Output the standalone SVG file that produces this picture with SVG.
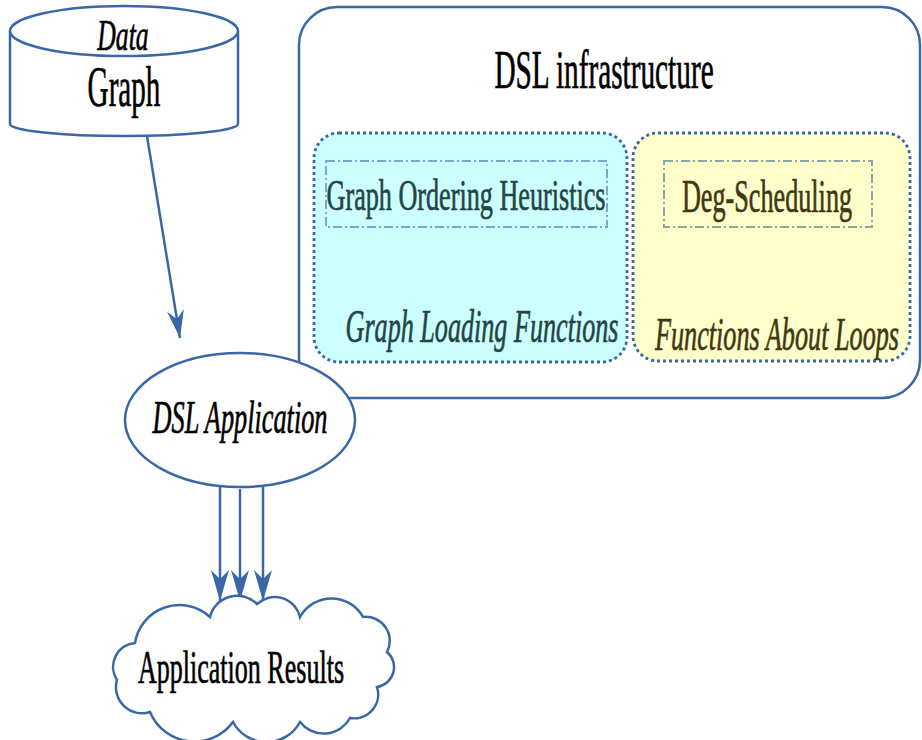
<svg xmlns="http://www.w3.org/2000/svg" width="922" height="740" viewBox="0 0 922 740">
<style>
.ln{fill:none;stroke:#3a68a6;stroke-width:2.5}
.shape{fill:#ffffff;stroke:#3a68a6;stroke-width:2.5}
.t{font-family:"Liberation Serif","Times New Roman",serif;fill:#000;stroke:#000;stroke-width:0.7}
.it{font-style:italic}
.cy{fill:#254545;stroke:#254545}
.ye{fill:#403812;stroke:#403812}
.dot{stroke:#3a68a6;stroke-width:2.8;stroke-dasharray:3 3}
.dd{fill:none;stroke-width:2;stroke-dasharray:9 3 2 3}
</style>
<defs>
<marker id="stealth" viewBox="-31 -10 33 20" refX="0" refY="0" markerWidth="33" markerHeight="20" markerUnits="userSpaceOnUse" orient="auto">
<path d="M0,0 L-31,-9 L-22,0 L-31,9 Z" fill="#3a68a6"/>
</marker>
<marker id="stealth2" viewBox="-30 -10 32 20" refX="0" refY="0" markerWidth="32" markerHeight="20" markerUnits="userSpaceOnUse" orient="auto">
<path d="M0,0 L-28,-8.5 L-19,0 L-28,8.5 Z" fill="#3a68a6"/>
</marker>
</defs>

<g id="dsl-infrastructure">
<rect x="299" y="7" width="621" height="391" rx="38" ry="38" class="shape"/>
<text class="t" transform="translate(604,88) scale(0.54,1)" x="0" y="0" font-size="54" text-anchor="middle" textLength="406" lengthAdjust="spacingAndGlyphs">DSL infrastructure</text>
</g>

<g id="graph-loading-functions">
<rect x="314" y="133" width="313" height="229" rx="25" ry="25" fill="#ccffff" class="dot"/>
<rect x="326" y="161" width="281" height="66" class="dd" stroke="#78a8cc"/>
<text class="t cy" transform="translate(466,210) scale(0.58,1)" x="0" y="0" font-size="45" text-anchor="middle" textLength="481" lengthAdjust="spacingAndGlyphs">Graph Ordering Heuristics</text>
<text class="t it cy" transform="translate(482,342) scale(0.556,1)" x="0" y="0" font-size="47" text-anchor="middle" textLength="491" lengthAdjust="spacingAndGlyphs">Graph Loading Functions</text>
</g>

<g id="functions-about-loops">
<rect x="633" y="133" width="277" height="228" rx="25" ry="25" fill="#ffffcc" class="dot"/>
<rect x="664" y="161" width="208" height="66" class="dd" stroke="#8aa6a6"/>
<text class="t ye" transform="translate(767,212) scale(0.569,1)" x="0" y="0" font-size="46" text-anchor="middle" textLength="299" lengthAdjust="spacingAndGlyphs">Deg-Scheduling</text>
<text class="t it ye" transform="translate(777,350) scale(0.556,1)" x="0" y="0" font-size="47" text-anchor="middle" textLength="439" lengthAdjust="spacingAndGlyphs">Functions About Loops</text>
</g>

<g id="connectors">
<line x1="147" y1="136" x2="180" y2="338" class="ln" marker-end="url(#stealth2)"/>
<line x1="220" y1="487" x2="220" y2="601" class="ln" marker-end="url(#stealth)"/>
<line x1="240" y1="489" x2="240" y2="601" class="ln" marker-end="url(#stealth)"/>
<line x1="263" y1="487" x2="263" y2="601" class="ln" marker-end="url(#stealth)"/>
</g>

<g id="data-graph">
<path d="M10,31 L10,124 A114,12 0 0 0 238,124 L238,31" class="shape"/>
<ellipse cx="124" cy="31" rx="114" ry="25" class="shape"/>
<text class="t it" transform="translate(123,50) scale(0.57,1)" x="0" y="0" font-size="45" text-anchor="middle" textLength="90" lengthAdjust="spacingAndGlyphs">Data</text>
<text class="t" transform="translate(124,106) scale(0.52,1)" x="0" y="0" font-size="56" text-anchor="middle" textLength="140" lengthAdjust="spacingAndGlyphs">Graph</text>
</g>

<g id="dsl-application">
<ellipse cx="240" cy="420" rx="115" ry="67" class="shape"/>
<text class="t it" transform="translate(240,433) scale(0.568,1)" x="0" y="0" font-size="46" text-anchor="middle" textLength="308" lengthAdjust="spacingAndGlyphs">DSL Application</text>
</g>

<g id="application-results">
<path class="shape" d="M135,643 A45,45 0 0 1 210,617 A28,28 0 0 1 257,604 A26,26 0 0 1 300,617 A36,36 0 0 1 363,617 A24,24 0 0 1 387,652 A20,20 0 0 1 377,687 A24,24 0 0 1 350,718 A30,30 0 0 1 300,722 A38,38 0 0 1 233,722 A48,48 0 0 1 150,712 A26,26 0 0 1 117,680 A24,24 0 0 1 135,643 Z"/>
<text class="t" transform="translate(241,683) scale(0.566,1)" x="0" y="0" font-size="46" text-anchor="middle" textLength="364" lengthAdjust="spacingAndGlyphs">Application Results</text>
</g>
</svg>
